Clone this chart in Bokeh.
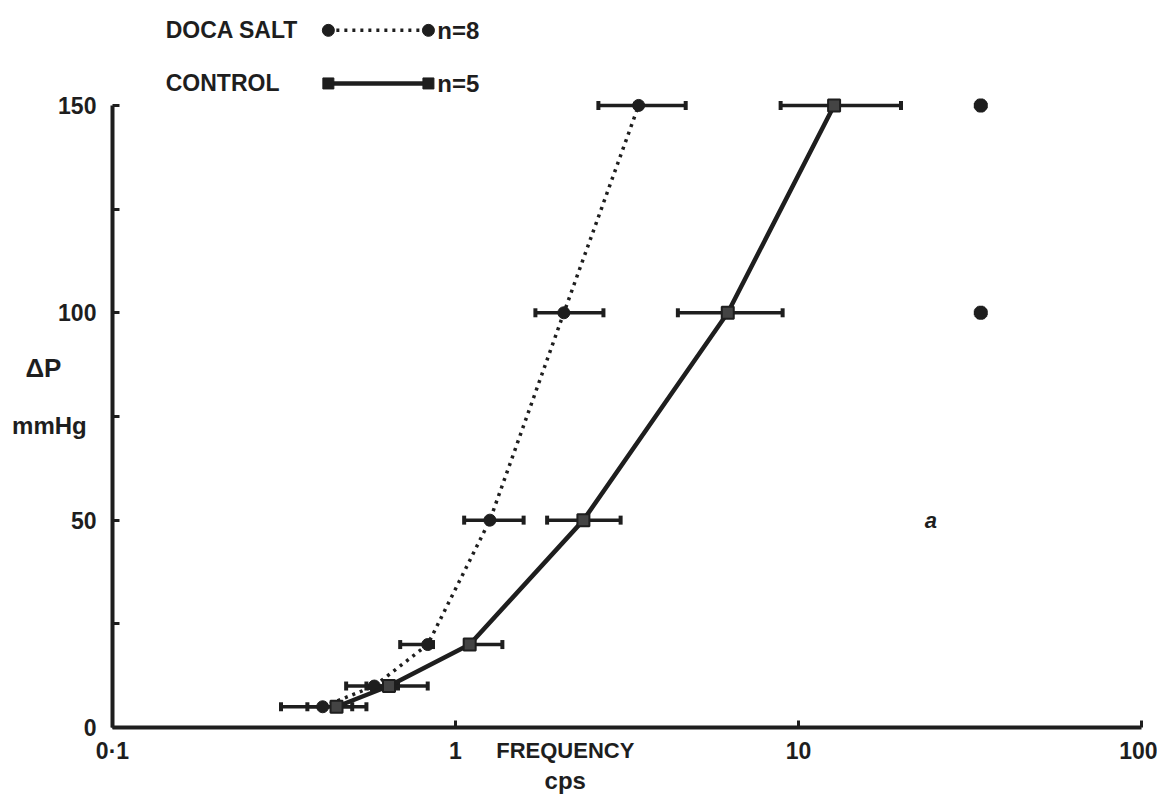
from bokeh.plotting import figure
from bokeh.models import (ColumnDataSource, Whisker, TeeHead, Range1d, FixedTicker, Label)
from bokeh.embed import file_html
from bokeh.resources import INLINE

# ---------------- data ----------------
pressure = [5, 10, 20, 50, 100, 150]          # delta P, mmHg
doca_freq = [0.41, 0.58, 0.83, 1.26, 2.07, 3.42]
doca_lo = [0.31, 0.48, 0.69, 1.06, 1.71, 2.61]
doca_hi = [0.50, 0.68, 0.86, 1.58, 2.70, 4.69]
ctrl_freq = [0.45, 0.64, 1.10, 2.36, 6.22, 12.7]
ctrl_lo = [0.37, 0.55, 1.07, 1.85, 4.45, 8.87]
ctrl_hi = [0.55, 0.83, 1.37, 3.03, 8.99, 19.9]
sig_freq = [34, 34]
sig_pressure = [150, 100]
x_ticks = [0.1, 1, 10, 100]
x_tick_labels = ["0·1", "1", "10", "100"]
y_ticks = [0, 50, 100, 150]
y_minor = [25, 75, 125]
series_names = ["DOCA SALT", "CONTROL"]
series_n = ["n=8", "n=5"]

INK = "#1e1e1e"
FONT = "Liberation Sans"

# whole canvas is the frame; axes are placed at fixed data locations
p = figure(width=1157, height=798, x_axis_type="log",
           x_range=Range1d(0.04716, 111.34), y_range=Range1d(-17.12, 175.3),
           output_backend="svg", toolbar_location=None,
           min_border=0,
           background_fill_color="white", border_fill_color="white")
p.outline_line_color = None
p.grid.visible = False

xa = p.xaxis[0]
xa.ticker = FixedTicker(ticks=x_ticks, minor_ticks=[])
xa.major_label_overrides = {t: l for t, l in zip(x_ticks, x_tick_labels)}
xa.fixed_location = 0
xa.bounds = (0.1, 100)
ya = p.yaxis[0]
ya.ticker = FixedTicker(ticks=y_ticks, minor_ticks=y_minor)
ya.fixed_location = 0.1
ya.bounds = (0, 150)
for ax in (xa, ya):
    ax.axis_line_width = 4
    ax.axis_line_color = INK
    ax.major_tick_in = 7
    ax.major_tick_out = 0
    ax.major_tick_line_width = 3
    ax.major_tick_line_color = INK
    ax.major_label_text_font = FONT
    ax.major_label_text_font_style = "bold"
    ax.major_label_text_font_size = "23px"
    ax.major_label_text_color = INK
ya.minor_tick_in = 7
ya.minor_tick_out = 0
ya.minor_tick_line_width = 3
ya.minor_tick_line_color = INK
xa.major_label_standoff = 10
ya.major_label_standoff = 16

# error bars
dsrc = ColumnDataSource(dict(y=pressure, lo=doca_lo, hi=doca_hi, x=doca_freq))
csrc = ColumnDataSource(dict(y=pressure, lo=ctrl_lo, hi=ctrl_hi, x=ctrl_freq))
for src in (dsrc, csrc):
    w = Whisker(base="y", lower="lo", upper="hi", dimension="width", source=src,
                line_width=3.5, line_color=INK,
                upper_head=TeeHead(size=9, line_width=4, line_color=INK),
                lower_head=TeeHead(size=9, line_width=4, line_color=INK))
    p.add_layout(w)

# lines + markers
p.line("x", "y", source=dsrc, line_width=3.5, line_color=INK, line_dash="3 5")
p.scatter("x", "y", source=dsrc, marker="circle", size=12, fill_color=INK, line_color=INK)
p.line("x", "y", source=csrc, line_width=4.5, line_color=INK)
p.scatter("x", "y", source=csrc, marker="square", size=12, fill_color="#444444",
          line_color=INK, line_width=2)

# significance marks
p.scatter(sig_freq, sig_pressure, marker="asterisk", size=14, line_width=5, line_color=INK)
p.add_layout(Label(x=24.3, y=50, text="a", text_font=FONT, text_font_style="bold italic",
                   text_font_size="22px", text_color=INK, text_align="center",
                   text_baseline="middle"))

# legend (hand-drawn style)
leg_y = [168.1, 155.3]
leg_x0, leg_x1 = 0.426, 0.834
p.line([leg_x0, leg_x1], [leg_y[0], leg_y[0]], line_width=3.5, line_color=INK, line_dash="3 5")
p.scatter([leg_x0, leg_x1], [leg_y[0], leg_y[0]], marker="circle", size=12, fill_color=INK, line_color=INK)
p.line([leg_x0, leg_x1], [leg_y[1], leg_y[1]], line_width=4.5, line_color=INK)
p.scatter([leg_x0, leg_x1], [leg_y[1], leg_y[1]], marker="square", size=11, fill_color=INK, line_color=INK)
for name, n, yy in zip(series_names, series_n, leg_y):
    p.add_layout(Label(x=0.143, y=yy, text=name, text_font=FONT, text_font_style="bold",
                       text_font_size="23px", text_color=INK, text_baseline="middle"))
    p.add_layout(Label(x=0.885, y=yy, text=n, text_font=FONT, text_font_style="bold",
                       text_font_size="24px", text_color=INK, text_baseline="middle"))

# axis titles
for txt, xx, yy, fs in [("FREQUENCY", 2.09, -5.5, "22px"), ("cps", 2.09, -12.8, "24px")]:
    p.add_layout(Label(x=xx, y=yy, text=txt, text_font=FONT, text_font_style="bold",
                       text_font_size=fs, text_color=INK, text_align="center",
                       text_baseline="middle"))
for txt, xx, yy, fs in [("ΔP", 0.0629, 86.6, "26px"), ("mmHg", 0.0655, 72.8, "24px")]:
    p.add_layout(Label(x=xx, y=yy, text=txt, text_font=FONT, text_font_style="bold",
                       text_font_size=fs, text_color=INK, text_align="center",
                       text_baseline="middle"))

open("out.html", "w").write(file_html(p, INLINE))
